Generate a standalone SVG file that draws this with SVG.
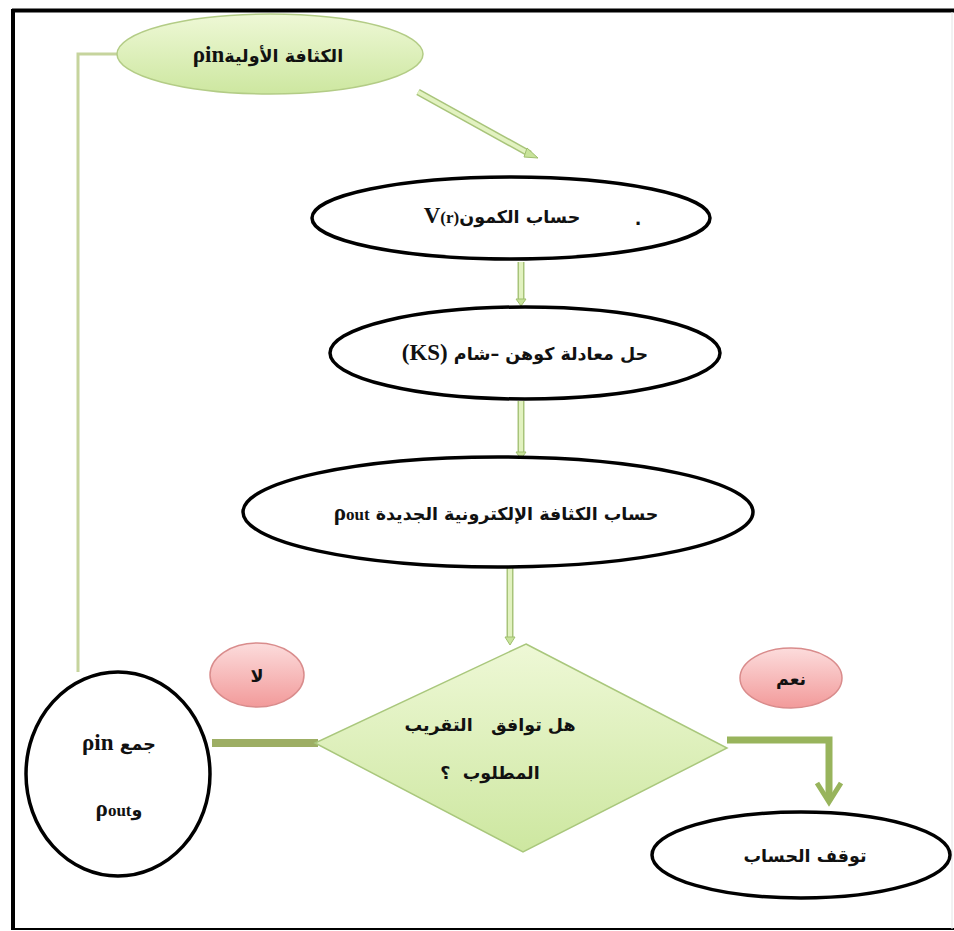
<svg xmlns="http://www.w3.org/2000/svg" width="954" height="931" viewBox="0 0 954 931">
<defs>
<linearGradient id="gGreen" x1="0" y1="0" x2="0" y2="1">
<stop offset="0" stop-color="#eef8d6"/>
<stop offset="1" stop-color="#cde7a0"/>
</linearGradient>
<linearGradient id="gPink" x1="0" y1="0" x2="0" y2="1">
<stop offset="0" stop-color="#fcdcdc"/>
<stop offset="1" stop-color="#f29a9a"/>
</linearGradient>
</defs>
<style>
.frame{fill:none;stroke:#000}
.blk{fill:#fff;stroke:#000;stroke-width:3.5}
.grn{fill:url(#gGreen);stroke:#b3cc86;stroke-width:1.5}
.pnk{fill:url(#gPink);stroke:#d98c8c;stroke-width:1.5}
.ar{font-family:"DejaVu Sans","Noto Sans",sans-serif;font-weight:bold;font-size:17.5px;fill:#111;text-anchor:middle;white-space:pre}
.lat{font-family:"Liberation Serif",serif;font-weight:bold;font-size:23px}
.sm{font-size:17px}
.outer{stroke:#a8c47a;stroke-width:7;fill:none}
.inner{stroke:#e2f2c0;stroke-width:4;fill:none}
.head{fill:#c8e39a;stroke:#9fbf6e;stroke-width:1}
</style>
<rect x="0" y="0" width="954" height="931" fill="#fff"/>
<g id="frame">
<line x1="12" y1="10.5" x2="954" y2="10.5" class="frame" stroke-width="4"/>
<line x1="13" y1="9" x2="13" y2="930" class="frame" stroke-width="4"/>
<line x1="12" y1="929" x2="954" y2="929" class="frame" stroke-width="2" stroke="#333"/>
<line x1="952" y1="12" x2="952" y2="929" stroke="#e4e4e4" stroke-width="1"/>
</g>
<g id="connectors">
<polyline points="117,54 78,54 78,672" fill="none" stroke="#c6d49d" stroke-width="3"/>
<line x1="418" y1="92" x2="530" y2="154" class="outer"/>
<line x1="418" y1="92" x2="530" y2="154" class="inner"/>
<polygon points="527,148 538,158 524,157" class="head"/>
<line x1="521" y1="262" x2="521" y2="300" class="outer"/>
<line x1="521" y1="262" x2="521" y2="300" class="inner"/>
<polygon points="516,299 526,299 521,306" class="head"/>
<line x1="521" y1="401" x2="521" y2="453" class="outer"/>
<line x1="521" y1="401" x2="521" y2="453" class="inner"/>
<polygon points="516,452 526,452 521,459" class="head"/>
<line x1="510" y1="568" x2="510" y2="638" class="outer"/>
<line x1="510" y1="568" x2="510" y2="638" class="inner"/>
<polygon points="505,637 515,637 510,645" class="head"/>
<line x1="212" y1="743" x2="318" y2="743" stroke="#9dae64" stroke-width="8"/>
<path d="M727,740 H829 V800" fill="none" stroke="#98b45c" stroke-width="7"/>
<polyline points="817,783 829,802 841,783" fill="none" stroke="#98b45c" stroke-width="5"/>
</g>
<g id="n-start">
<ellipse cx="270" cy="54" rx="153" ry="40" class="grn"/>
<text x="268" y="62" class="ar" direction="rtl">الكثافة الأولية<tspan class="lat">ρin</tspan></text>
</g>
<g id="n-potential">
<ellipse cx="511" cy="218" rx="199" ry="41" class="blk"/>
<text x="502" y="223" class="ar" direction="rtl">حساب الكمون<tspan class="lat">V</tspan><tspan class="lat sm">(r)</tspan></text>
<text x="638" y="225" class="ar">.</text>
</g>
<g id="n-ks">
<ellipse cx="525" cy="353" rx="195" ry="46" class="blk"/>
<text x="525" y="360" class="ar" direction="rtl">حل معادلة كوهن –شام <tspan class="lat">‎(KS)‎</tspan></text>
</g>
<g id="n-density">
<ellipse cx="498" cy="512" rx="255" ry="55" class="blk"/>
<text x="496" y="520" class="ar" direction="rtl">حساب الكثافة الإلكترونية الجديدة <tspan class="lat">ρ</tspan><tspan class="lat sm">out</tspan></text>
</g>
<g id="n-decision">
<polygon points="526,644 727,748 523,852 315,743" fill="url(#gGreen)" stroke="#a9c77c" stroke-width="1.5"/>
<text x="490" y="731" class="ar" direction="rtl">هل توافق   التقريب</text>
<text x="490" y="779" class="ar" direction="rtl">المطلوب  ؟</text>
</g>
<g id="n-no">
<ellipse cx="257" cy="675" rx="47" ry="32" class="pnk"/>
<text x="257" y="682" class="ar">لا</text>
</g>
<g id="n-yes">
<ellipse cx="791" cy="678" rx="51" ry="30" class="pnk"/>
<text x="791" y="685" class="ar">نعم</text>
</g>
<g id="n-mix">
<ellipse cx="118" cy="774" rx="92" ry="102" class="blk"/>
<text x="119" y="750" class="ar" direction="rtl">جمع <tspan class="lat">ρin</tspan></text>
<text x="119" y="816" class="ar" direction="rtl">و<tspan class="lat">ρ</tspan><tspan class="lat sm">out</tspan></text>
</g>
<g id="n-stop">
<ellipse cx="801" cy="855" rx="149" ry="43" class="blk"/>
<text x="805" y="862" class="ar" direction="rtl">توقف الحساب</text>
</g>
</svg>
